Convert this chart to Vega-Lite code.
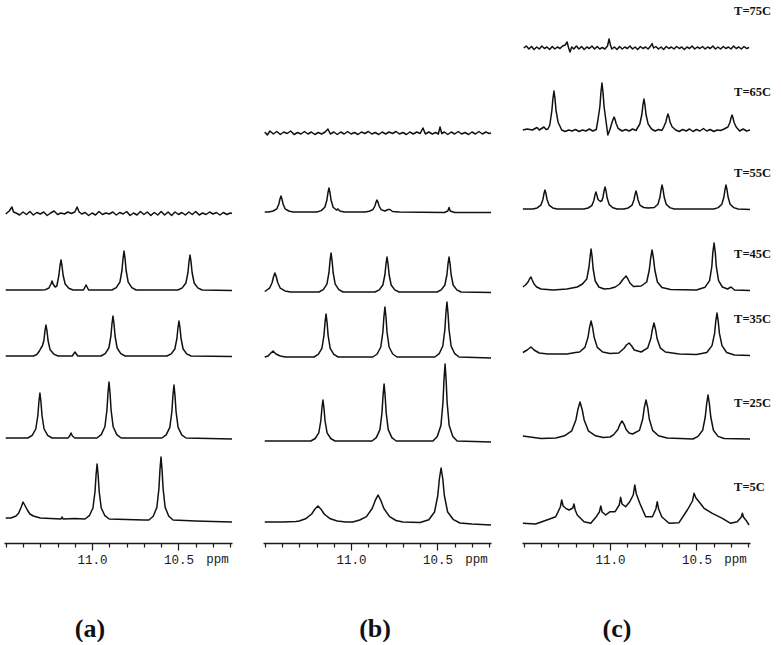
{
"$schema":"https://vega.github.io/schema/vega-lite/v6.json",
"background":"white",
"padding":{"left":4,"top":0,"right":0,"bottom":0},
"spacing":31,
"bounds":"flush",
"config":{"view":{"stroke":null},
 "axis":{"domainColor":"#1a1a1a","domainWidth":1.3,"tickColor":"#1a1a1a","tickWidth":1.2,"labelFont":"Liberation Mono","labelFontSize":12.5,"labelColor":"#1a1a1a","grid":false,"labelOverlap":false,"labelBound":false,"labelFlush":false,"labelPadding":3,"title":null}},
"datasets":{
"A":[
{"t":"a1","x":11.50,"y":25},{"t":"a1","x":11.47,"y":25},{"t":"a1","x":11.44,"y":27},{"t":"a1","x":11.425,"y":30},{"t":"a1","x":11.41,"y":36},{"t":"a1","x":11.40,"y":41},{"t":"a1","x":11.39,"y":38},{"t":"a1","x":11.375,"y":33},{"t":"a1","x":11.36,"y":29},{"t":"a1","x":11.34,"y":27},{"t":"a1","x":11.30,"y":25},{"t":"a1","x":11.24,"y":24.5},{"t":"a1","x":11.18,"y":24},{"t":"a1","x":11.174,"y":26},{"t":"a1","x":11.168,"y":24},{"t":"a1","x":11.10,"y":24.5},{"t":"a1","x":11.041,"y":24},{"t":"a1","x":11.016,"y":27.3},{"t":"a1","x":10.995,"y":35},{"t":"a1","x":10.983,"y":51.5},{"t":"a1","x":10.977,"y":68},{"t":"a1","x":10.971,"y":79},{"t":"a1","x":10.965,"y":68},{"t":"a1","x":10.959,"y":51.5},{"t":"a1","x":10.947,"y":35},{"t":"a1","x":10.926,"y":27.3},{"t":"a1","x":10.901,"y":24},{"t":"a1","x":10.80,"y":23.5},{"t":"a1","x":10.70,"y":23},{"t":"a1","x":10.671,"y":23},{"t":"a1","x":10.646,"y":26.8},{"t":"a1","x":10.625,"y":35.6},{"t":"a1","x":10.613,"y":54.5},{"t":"a1","x":10.607,"y":73.4},{"t":"a1","x":10.601,"y":86},{"t":"a1","x":10.595,"y":73.4},{"t":"a1","x":10.589,"y":54.5},{"t":"a1","x":10.577,"y":35.6},{"t":"a1","x":10.556,"y":26.8},{"t":"a1","x":10.531,"y":23},{"t":"a1","x":10.40,"y":22},{"t":"a1","x":10.30,"y":21.5},{"t":"a1","x":10.19,"y":21},
{"t":"a2","x":11.50,"y":105},{"t":"a2","x":11.372,"y":105},{"t":"a2","x":11.347,"y":107.7},{"t":"a2","x":11.326,"y":114},{"t":"a2","x":11.314,"y":127.5},{"t":"a2","x":11.308,"y":141},{"t":"a2","x":11.302,"y":150},{"t":"a2","x":11.296,"y":141},{"t":"a2","x":11.290,"y":127.5},{"t":"a2","x":11.278,"y":114},{"t":"a2","x":11.257,"y":107.7},{"t":"a2","x":11.232,"y":105},{"t":"a2","x":11.14,"y":105},{"t":"a2","x":11.13,"y":107},{"t":"a2","x":11.122,"y":110},{"t":"a2","x":11.114,"y":107},{"t":"a2","x":11.10,"y":105},{"t":"a2","x":10.972,"y":105},{"t":"a2","x":10.947,"y":108.4},{"t":"a2","x":10.926,"y":116.2},{"t":"a2","x":10.914,"y":133},{"t":"a2","x":10.908,"y":149.8},{"t":"a2","x":10.902,"y":161},{"t":"a2","x":10.896,"y":149.8},{"t":"a2","x":10.890,"y":133},{"t":"a2","x":10.878,"y":116.2},{"t":"a2","x":10.857,"y":108.4},{"t":"a2","x":10.832,"y":105},{"t":"a2","x":10.596,"y":105},{"t":"a2","x":10.571,"y":108.2},{"t":"a2","x":10.550,"y":115.6},{"t":"a2","x":10.538,"y":131.5},{"t":"a2","x":10.532,"y":147.4},{"t":"a2","x":10.526,"y":158},{"t":"a2","x":10.520,"y":147.4},{"t":"a2","x":10.514,"y":131.5},{"t":"a2","x":10.502,"y":115.6},{"t":"a2","x":10.481,"y":108.2},{"t":"a2","x":10.456,"y":105},{"t":"a2","x":10.19,"y":104},
{"t":"a3","x":11.50,"y":187},{"t":"a3","x":11.34,"y":187},{"t":"a3","x":11.32,"y":188.5},{"t":"a3","x":11.305,"y":192},{"t":"a3","x":11.296,"y":195},{"t":"a3","x":11.288,"y":197},{"t":"a3","x":11.279,"y":202.5},{"t":"a3","x":11.273,"y":211.8},{"t":"a3","x":11.267,"y":218},{"t":"a3","x":11.261,"y":211.8},{"t":"a3","x":11.255,"y":202.5},{"t":"a3","x":11.243,"y":193.2},{"t":"a3","x":11.222,"y":188.9},{"t":"a3","x":11.197,"y":187},{"t":"a3","x":11.115,"y":187},{"t":"a3","x":11.099,"y":191},{"t":"a3","x":11.083,"y":187},{"t":"a3","x":10.949,"y":187},{"t":"a3","x":10.924,"y":189.4},{"t":"a3","x":10.903,"y":195},{"t":"a3","x":10.891,"y":207},{"t":"a3","x":10.885,"y":219},{"t":"a3","x":10.879,"y":227},{"t":"a3","x":10.873,"y":219},{"t":"a3","x":10.867,"y":207},{"t":"a3","x":10.855,"y":195},{"t":"a3","x":10.834,"y":189.4},{"t":"a3","x":10.809,"y":187},{"t":"a3","x":10.567,"y":187},{"t":"a3","x":10.542,"y":189.1},{"t":"a3","x":10.521,"y":194},{"t":"a3","x":10.509,"y":204.5},{"t":"a3","x":10.503,"y":215},{"t":"a3","x":10.497,"y":222},{"t":"a3","x":10.491,"y":215},{"t":"a3","x":10.485,"y":204.5},{"t":"a3","x":10.473,"y":194},{"t":"a3","x":10.452,"y":189.1},{"t":"a3","x":10.427,"y":187},{"t":"a3","x":10.19,"y":186.5},
{"t":"a4","x":11.50,"y":253},{"t":"a4","x":11.30,"y":253},{"t":"a4","x":11.27,"y":253.3},{"t":"a4","x":11.25,"y":255},{"t":"a4","x":11.238,"y":259},{"t":"a4","x":11.232,"y":262},{"t":"a4","x":11.226,"y":259},{"t":"a4","x":11.214,"y":256},{"t":"a4","x":11.204,"y":257},{"t":"a4","x":11.192,"y":268},{"t":"a4","x":11.186,"y":277},{"t":"a4","x":11.180,"y":283},{"t":"a4","x":11.174,"y":277},{"t":"a4","x":11.168,"y":268},{"t":"a4","x":11.156,"y":259},{"t":"a4","x":11.135,"y":254.8},{"t":"a4","x":11.11,"y":253},{"t":"a4","x":11.05,"y":253},{"t":"a4","x":11.035,"y":258},{"t":"a4","x":11.02,"y":253},{"t":"a4","x":10.885,"y":253},{"t":"a4","x":10.860,"y":255.3},{"t":"a4","x":10.839,"y":260.8},{"t":"a4","x":10.827,"y":272.5},{"t":"a4","x":10.821,"y":284.2},{"t":"a4","x":10.815,"y":292},{"t":"a4","x":10.809,"y":284.2},{"t":"a4","x":10.803,"y":272.5},{"t":"a4","x":10.791,"y":260.8},{"t":"a4","x":10.770,"y":255.3},{"t":"a4","x":10.745,"y":253},{"t":"a4","x":10.503,"y":253},{"t":"a4","x":10.478,"y":255.1},{"t":"a4","x":10.457,"y":260},{"t":"a4","x":10.445,"y":270.5},{"t":"a4","x":10.439,"y":281},{"t":"a4","x":10.433,"y":288},{"t":"a4","x":10.427,"y":281},{"t":"a4","x":10.421,"y":270.5},{"t":"a4","x":10.409,"y":260},{"t":"a4","x":10.388,"y":255.1},{"t":"a4","x":10.363,"y":253},{"t":"a4","x":10.19,"y":252.5},
{"t":"a5","x":11.50,"y":329},{"t":"a5","x":11.48,"y":332},{"t":"a5","x":11.464,"y":336},{"t":"a5","x":11.455,"y":331},{"t":"a5","x":11.44,"y":330},{"t":"a5","x":11.42,"y":328},{"t":"a5","x":11.40,"y":331},{"t":"a5","x":11.38,"y":328.5},{"t":"a5","x":11.36,"y":331.5},{"t":"a5","x":11.34,"y":328},{"t":"a5","x":11.32,"y":330.5},{"t":"a5","x":11.30,"y":329},{"t":"a5","x":11.28,"y":331},{"t":"a5","x":11.26,"y":327.5},{"t":"a5","x":11.24,"y":330},{"t":"a5","x":11.22,"y":332},{"t":"a5","x":11.20,"y":328.5},{"t":"a5","x":11.18,"y":330},{"t":"a5","x":11.16,"y":329},{"t":"a5","x":11.14,"y":331},{"t":"a5","x":11.12,"y":329.5},{"t":"a5","x":11.10,"y":331},{"t":"a5","x":11.087,"y":336},{"t":"a5","x":11.075,"y":331},{"t":"a5","x":11.06,"y":329},{"t":"a5","x":11.04,"y":330.5},{"t":"a5","x":11.02,"y":327.5},{"t":"a5","x":11.00,"y":330},{"t":"a5","x":10.98,"y":328},{"t":"a5","x":10.96,"y":331.5},{"t":"a5","x":10.94,"y":328.5},{"t":"a5","x":10.92,"y":330},{"t":"a5","x":10.90,"y":329},{"t":"a5","x":10.88,"y":331},{"t":"a5","x":10.86,"y":328},{"t":"a5","x":10.84,"y":330.5},{"t":"a5","x":10.82,"y":329},{"t":"a5","x":10.80,"y":331.5},{"t":"a5","x":10.78,"y":327.5},{"t":"a5","x":10.76,"y":330},{"t":"a5","x":10.74,"y":328},{"t":"a5","x":10.72,"y":331.5},{"t":"a5","x":10.70,"y":328.5},{"t":"a5","x":10.68,"y":331},{"t":"a5","x":10.66,"y":327.5},{"t":"a5","x":10.64,"y":330.5},{"t":"a5","x":10.62,"y":328},{"t":"a5","x":10.60,"y":331.5},{"t":"a5","x":10.58,"y":328},{"t":"a5","x":10.56,"y":331},{"t":"a5","x":10.54,"y":327.5},{"t":"a5","x":10.52,"y":331},{"t":"a5","x":10.50,"y":328.5},{"t":"a5","x":10.48,"y":330.5},{"t":"a5","x":10.46,"y":328},{"t":"a5","x":10.44,"y":331},{"t":"a5","x":10.42,"y":328.5},{"t":"a5","x":10.40,"y":331.5},{"t":"a5","x":10.38,"y":328},{"t":"a5","x":10.36,"y":330},{"t":"a5","x":10.34,"y":328.5},{"t":"a5","x":10.32,"y":331},{"t":"a5","x":10.30,"y":329},{"t":"a5","x":10.28,"y":330.5},{"t":"a5","x":10.26,"y":328},{"t":"a5","x":10.24,"y":330.5},{"t":"a5","x":10.22,"y":328.5},{"t":"a5","x":10.20,"y":330},{"t":"a5","x":10.19,"y":329.5}
],
"B":[
{"t":"b1","x":11.50,"y":21},{"t":"b1","x":11.40,"y":21},{"t":"b1","x":11.32,"y":21.5},{"t":"b1","x":11.30,"y":22},{"t":"b1","x":11.264,"y":24.2},{"t":"b1","x":11.228,"y":29},{"t":"b1","x":11.21,"y":33.8},{"t":"b1","x":11.192,"y":37},{"t":"b1","x":11.174,"y":33.8},{"t":"b1","x":11.156,"y":29},{"t":"b1","x":11.12,"y":24.2},{"t":"b1","x":11.08,"y":22},{"t":"b1","x":11.03,"y":21},{"t":"b1","x":10.99,"y":21},{"t":"b1","x":10.95,"y":23},{"t":"b1","x":10.911,"y":26.4},{"t":"b1","x":10.878,"y":34.5},{"t":"b1","x":10.86,"y":42.6},{"t":"b1","x":10.844,"y":48},{"t":"b1","x":10.828,"y":42.6},{"t":"b1","x":10.81,"y":34.5},{"t":"b1","x":10.777,"y":26.4},{"t":"b1","x":10.74,"y":22.5},{"t":"b1","x":10.70,"y":21},{"t":"b1","x":10.60,"y":20.5},{"t":"b1","x":10.55,"y":23.3},{"t":"b1","x":10.517,"y":31},{"t":"b1","x":10.498,"y":47.5},{"t":"b1","x":10.489,"y":64},{"t":"b1","x":10.479,"y":75},{"t":"b1","x":10.469,"y":64},{"t":"b1","x":10.46,"y":47.5},{"t":"b1","x":10.441,"y":31},{"t":"b1","x":10.407,"y":23.3},{"t":"b1","x":10.37,"y":20},{"t":"b1","x":10.30,"y":19},{"t":"b1","x":10.19,"y":18},
{"t":"b2","x":11.50,"y":102},{"t":"b2","x":11.233,"y":102},{"t":"b2","x":11.208,"y":104.5},{"t":"b2","x":11.187,"y":110.2},{"t":"b2","x":11.175,"y":122.5},{"t":"b2","x":11.169,"y":134.8},{"t":"b2","x":11.163,"y":143},{"t":"b2","x":11.157,"y":134.8},{"t":"b2","x":11.151,"y":122.5},{"t":"b2","x":11.139,"y":110.2},{"t":"b2","x":11.118,"y":104.5},{"t":"b2","x":11.093,"y":102},{"t":"b2","x":10.879,"y":102},{"t":"b2","x":10.854,"y":105.4},{"t":"b2","x":10.833,"y":113.4},{"t":"b2","x":10.821,"y":130.5},{"t":"b2","x":10.815,"y":147.6},{"t":"b2","x":10.809,"y":159},{"t":"b2","x":10.803,"y":147.6},{"t":"b2","x":10.797,"y":130.5},{"t":"b2","x":10.785,"y":113.4},{"t":"b2","x":10.764,"y":105.4},{"t":"b2","x":10.739,"y":102},{"t":"b2","x":10.526,"y":102},{"t":"b2","x":10.501,"y":106.6},{"t":"b2","x":10.480,"y":117.4},{"t":"b2","x":10.468,"y":140.5},{"t":"b2","x":10.462,"y":163.6},{"t":"b2","x":10.456,"y":179},{"t":"b2","x":10.450,"y":163.6},{"t":"b2","x":10.444,"y":140.5},{"t":"b2","x":10.432,"y":117.4},{"t":"b2","x":10.411,"y":106.6},{"t":"b2","x":10.386,"y":102},{"t":"b2","x":10.19,"y":101},
{"t":"b3","x":11.50,"y":186},{"t":"b3","x":11.48,"y":187},{"t":"b3","x":11.47,"y":189},{"t":"b3","x":11.452,"y":192},{"t":"b3","x":11.435,"y":189},{"t":"b3","x":11.41,"y":187},{"t":"b3","x":11.38,"y":186},{"t":"b3","x":11.215,"y":186},{"t":"b3","x":11.190,"y":188.6},{"t":"b3","x":11.169,"y":194.6},{"t":"b3","x":11.157,"y":207.5},{"t":"b3","x":11.151,"y":220.4},{"t":"b3","x":11.145,"y":229},{"t":"b3","x":11.139,"y":220.4},{"t":"b3","x":11.133,"y":207.5},{"t":"b3","x":11.121,"y":194.6},{"t":"b3","x":11.100,"y":188.6},{"t":"b3","x":11.075,"y":186},{"t":"b3","x":10.874,"y":186},{"t":"b3","x":10.849,"y":189},{"t":"b3","x":10.828,"y":196},{"t":"b3","x":10.816,"y":211},{"t":"b3","x":10.810,"y":226},{"t":"b3","x":10.804,"y":236},{"t":"b3","x":10.798,"y":226},{"t":"b3","x":10.792,"y":211},{"t":"b3","x":10.780,"y":196},{"t":"b3","x":10.759,"y":189},{"t":"b3","x":10.734,"y":186},{"t":"b3","x":10.515,"y":186},{"t":"b3","x":10.490,"y":189.3},{"t":"b3","x":10.469,"y":197},{"t":"b3","x":10.457,"y":213.5},{"t":"b3","x":10.451,"y":230},{"t":"b3","x":10.445,"y":241},{"t":"b3","x":10.439,"y":230},{"t":"b3","x":10.433,"y":213.5},{"t":"b3","x":10.421,"y":197},{"t":"b3","x":10.400,"y":189.3},{"t":"b3","x":10.375,"y":186},{"t":"b3","x":10.19,"y":185},
{"t":"b4","x":11.50,"y":251.5},{"t":"b4","x":11.472,"y":254.8},{"t":"b4","x":11.457,"y":260.5},{"t":"b4","x":11.449,"y":266.2},{"t":"b4","x":11.441,"y":270},{"t":"b4","x":11.433,"y":266.2},{"t":"b4","x":11.425,"y":260.5},{"t":"b4","x":11.41,"y":254.8},{"t":"b4","x":11.383,"y":252.1},{"t":"b4","x":11.35,"y":251},{"t":"b4","x":11.186,"y":251},{"t":"b4","x":11.161,"y":253.3},{"t":"b4","x":11.140,"y":258.8},{"t":"b4","x":11.128,"y":270.5},{"t":"b4","x":11.122,"y":282.2},{"t":"b4","x":11.116,"y":290},{"t":"b4","x":11.110,"y":282.2},{"t":"b4","x":11.104,"y":270.5},{"t":"b4","x":11.092,"y":258.8},{"t":"b4","x":11.071,"y":253.3},{"t":"b4","x":11.046,"y":251},{"t":"b4","x":10.862,"y":251},{"t":"b4","x":10.837,"y":253.1},{"t":"b4","x":10.816,"y":258},{"t":"b4","x":10.804,"y":268.5},{"t":"b4","x":10.798,"y":279},{"t":"b4","x":10.792,"y":286},{"t":"b4","x":10.786,"y":279},{"t":"b4","x":10.780,"y":268.5},{"t":"b4","x":10.768,"y":258},{"t":"b4","x":10.747,"y":253.1},{"t":"b4","x":10.722,"y":251},{"t":"b4","x":10.503,"y":251},{"t":"b4","x":10.478,"y":253.1},{"t":"b4","x":10.457,"y":258},{"t":"b4","x":10.445,"y":268.5},{"t":"b4","x":10.439,"y":279},{"t":"b4","x":10.433,"y":286},{"t":"b4","x":10.427,"y":279},{"t":"b4","x":10.421,"y":268.5},{"t":"b4","x":10.409,"y":258},{"t":"b4","x":10.388,"y":253.1},{"t":"b4","x":10.363,"y":251},{"t":"b4","x":10.19,"y":250.5},
{"t":"b5","x":11.50,"y":331},{"t":"b5","x":11.476,"y":331},{"t":"b5","x":11.451,"y":332},{"t":"b5","x":11.430,"y":334.2},{"t":"b5","x":11.418,"y":339},{"t":"b5","x":11.412,"y":343.8},{"t":"b5","x":11.406,"y":347},{"t":"b5","x":11.400,"y":343.8},{"t":"b5","x":11.394,"y":339},{"t":"b5","x":11.382,"y":334.2},{"t":"b5","x":11.361,"y":332},{"t":"b5","x":11.336,"y":331},{"t":"b5","x":11.198,"y":331},{"t":"b5","x":11.173,"y":332.4},{"t":"b5","x":11.152,"y":335.8},{"t":"b5","x":11.140,"y":343},{"t":"b5","x":11.134,"y":350.2},{"t":"b5","x":11.128,"y":355},{"t":"b5","x":11.122,"y":350.2},{"t":"b5","x":11.116,"y":343},{"t":"b5","x":11.104,"y":335.8},{"t":"b5","x":11.085,"y":333},{"t":"b5","x":11.076,"y":334},{"t":"b5","x":11.065,"y":332},{"t":"b5","x":11.04,"y":331},{"t":"b5","x":10.92,"y":331},{"t":"b5","x":10.895,"y":331.7},{"t":"b5","x":10.874,"y":333.4},{"t":"b5","x":10.862,"y":337},{"t":"b5","x":10.856,"y":340.6},{"t":"b5","x":10.850,"y":343},{"t":"b5","x":10.844,"y":340.6},{"t":"b5","x":10.838,"y":337},{"t":"b5","x":10.826,"y":333.4},{"t":"b5","x":10.805,"y":332},{"t":"b5","x":10.785,"y":333.5},{"t":"b5","x":10.775,"y":333.5},{"t":"b5","x":10.76,"y":331.5},{"t":"b5","x":10.72,"y":331},{"t":"b5","x":10.46,"y":330.5},{"t":"b5","x":10.440,"y":332},{"t":"b5","x":10.433,"y":335.5},{"t":"b5","x":10.426,"y":332},{"t":"b5","x":10.40,"y":330.5},{"t":"b5","x":10.19,"y":330.5},
{"t":"b6","x":11.50,"y":411},{"t":"b6","x":11.485,"y":408},{"t":"b6","x":11.47,"y":412},{"t":"b6","x":11.45,"y":409},{"t":"b6","x":11.43,"y":411.5},{"t":"b6","x":11.41,"y":408.5},{"t":"b6","x":11.39,"y":411},{"t":"b6","x":11.37,"y":409.5},{"t":"b6","x":11.35,"y":412},{"t":"b6","x":11.33,"y":408.5},{"t":"b6","x":11.31,"y":410.5},{"t":"b6","x":11.29,"y":409},{"t":"b6","x":11.27,"y":411.5},{"t":"b6","x":11.25,"y":409},{"t":"b6","x":11.23,"y":411},{"t":"b6","x":11.21,"y":408.5},{"t":"b6","x":11.19,"y":410.5},{"t":"b6","x":11.17,"y":409},{"t":"b6","x":11.15,"y":411},{"t":"b6","x":11.134,"y":414},{"t":"b6","x":11.12,"y":409},{"t":"b6","x":11.10,"y":411},{"t":"b6","x":11.08,"y":408.5},{"t":"b6","x":11.06,"y":411},{"t":"b6","x":11.04,"y":409},{"t":"b6","x":11.02,"y":411.5},{"t":"b6","x":11.00,"y":409},{"t":"b6","x":10.98,"y":410.5},{"t":"b6","x":10.96,"y":408.5},{"t":"b6","x":10.94,"y":411},{"t":"b6","x":10.92,"y":409.5},{"t":"b6","x":10.90,"y":411.5},{"t":"b6","x":10.88,"y":409},{"t":"b6","x":10.86,"y":410.5},{"t":"b6","x":10.84,"y":408.5},{"t":"b6","x":10.82,"y":411},{"t":"b6","x":10.80,"y":409},{"t":"b6","x":10.78,"y":411},{"t":"b6","x":10.76,"y":409.5},{"t":"b6","x":10.74,"y":411.5},{"t":"b6","x":10.72,"y":409},{"t":"b6","x":10.70,"y":410.5},{"t":"b6","x":10.68,"y":408.5},{"t":"b6","x":10.66,"y":411},{"t":"b6","x":10.64,"y":409},{"t":"b6","x":10.62,"y":411},{"t":"b6","x":10.60,"y":409.5},{"t":"b6","x":10.584,"y":415},{"t":"b6","x":10.57,"y":409},{"t":"b6","x":10.55,"y":411},{"t":"b6","x":10.53,"y":409},{"t":"b6","x":10.51,"y":410.5},{"t":"b6","x":10.495,"y":409},{"t":"b6","x":10.485,"y":416},{"t":"b6","x":10.475,"y":409.5},{"t":"b6","x":10.46,"y":411},{"t":"b6","x":10.44,"y":408.5},{"t":"b6","x":10.42,"y":411},{"t":"b6","x":10.40,"y":409},{"t":"b6","x":10.38,"y":411.5},{"t":"b6","x":10.36,"y":409},{"t":"b6","x":10.34,"y":410.5},{"t":"b6","x":10.32,"y":408.5},{"t":"b6","x":10.30,"y":411},{"t":"b6","x":10.28,"y":409},{"t":"b6","x":10.26,"y":411.5},{"t":"b6","x":10.24,"y":409},{"t":"b6","x":10.22,"y":411},{"t":"b6","x":10.20,"y":409.5},{"t":"b6","x":10.19,"y":410}
],
"C":[
{"t":"c1","x":11.505,"y":19.7},{"t":"c1","x":11.431,"y":19},{"t":"c1","x":11.354,"y":23.7},{"t":"c1","x":11.315,"y":26.3},{"t":"c1","x":11.288,"y":36},{"t":"c1","x":11.280,"y":43},{"t":"c1","x":11.272,"y":37},{"t":"c1","x":11.257,"y":34.7},{"t":"c1","x":11.238,"y":33},{"t":"c1","x":11.216,"y":35},{"t":"c1","x":11.209,"y":39},{"t":"c1","x":11.202,"y":33},{"t":"c1","x":11.190,"y":28},{"t":"c1","x":11.151,"y":21.3},{"t":"c1","x":11.112,"y":19.7},{"t":"c1","x":11.080,"y":26.3},{"t":"c1","x":11.062,"y":31},{"t":"c1","x":11.054,"y":37},{"t":"c1","x":11.046,"y":31},{"t":"c1","x":11.025,"y":28},{"t":"c1","x":11.000,"y":31.3},{"t":"c1","x":10.971,"y":31.3},{"t":"c1","x":10.947,"y":38},{"t":"c1","x":10.939,"y":45.7},{"t":"c1","x":10.931,"y":39},{"t":"c1","x":10.910,"y":36.3},{"t":"c1","x":10.886,"y":41.3},{"t":"c1","x":10.866,"y":48},{"t":"c1","x":10.857,"y":58},{"t":"c1","x":10.848,"y":49},{"t":"c1","x":10.828,"y":39.7},{"t":"c1","x":10.794,"y":26.3},{"t":"c1","x":10.755,"y":26.3},{"t":"c1","x":10.735,"y":34},{"t":"c1","x":10.727,"y":41.3},{"t":"c1","x":10.719,"y":34},{"t":"c1","x":10.701,"y":26.3},{"t":"c1","x":10.659,"y":19.7},{"t":"c1","x":10.601,"y":20.3},{"t":"c1","x":10.553,"y":33},{"t":"c1","x":10.523,"y":42},{"t":"c1","x":10.514,"y":49.7},{"t":"c1","x":10.503,"y":45},{"t":"c1","x":10.485,"y":41.3},{"t":"c1","x":10.456,"y":34.7},{"t":"c1","x":10.408,"y":29.7},{"t":"c1","x":10.350,"y":24.7},{"t":"c1","x":10.302,"y":19.7},{"t":"c1","x":10.264,"y":21.3},{"t":"c1","x":10.240,"y":26},{"t":"c1","x":10.234,"y":29.7},{"t":"c1","x":10.228,"y":26},{"t":"c1","x":10.211,"y":22.3},{"t":"c1","x":10.196,"y":18},
{"t":"c2","x":11.505,"y":107},{"t":"c2","x":11.40,"y":104.5},{"t":"c2","x":11.314,"y":105},{"t":"c2","x":11.264,"y":107.2},{"t":"c2","x":11.222,"y":112.2},{"t":"c2","x":11.198,"y":123},{"t":"c2","x":11.186,"y":133.8},{"t":"c2","x":11.174,"y":141},{"t":"c2","x":11.162,"y":133.8},{"t":"c2","x":11.150,"y":123},{"t":"c2","x":11.126,"y":112.2},{"t":"c2","x":11.084,"y":107.2},{"t":"c2","x":11.04,"y":105.5},{"t":"c2","x":11.00,"y":106},{"t":"c2","x":10.979,"y":108.4},{"t":"c2","x":10.955,"y":113.5},{"t":"c2","x":10.943,"y":118.6},{"t":"c2","x":10.931,"y":122},{"t":"c2","x":10.919,"y":118.6},{"t":"c2","x":10.907,"y":113.5},{"t":"c2","x":10.89,"y":110},{"t":"c2","x":10.87,"y":109},{"t":"c2","x":10.830,"y":112.6},{"t":"c2","x":10.811,"y":124},{"t":"c2","x":10.802,"y":135.4},{"t":"c2","x":10.792,"y":143},{"t":"c2","x":10.782,"y":135.4},{"t":"c2","x":10.773,"y":124},{"t":"c2","x":10.754,"y":112.6},{"t":"c2","x":10.72,"y":107.3},{"t":"c2","x":10.67,"y":105},{"t":"c2","x":10.52,"y":104},{"t":"c2","x":10.491,"y":106.6},{"t":"c2","x":10.464,"y":112.8},{"t":"c2","x":10.449,"y":126},{"t":"c2","x":10.441,"y":139.2},{"t":"c2","x":10.433,"y":148},{"t":"c2","x":10.425,"y":139.2},{"t":"c2","x":10.417,"y":126},{"t":"c2","x":10.402,"y":112.8},{"t":"c2","x":10.375,"y":106.6},{"t":"c2","x":10.34,"y":104.5},{"t":"c2","x":10.19,"y":104},
{"t":"c3","x":11.505,"y":190.5},{"t":"c3","x":11.48,"y":193},{"t":"c3","x":11.458,"y":196},{"t":"c3","x":11.44,"y":193},{"t":"c3","x":11.41,"y":190},{"t":"c3","x":11.36,"y":189},{"t":"c3","x":11.25,"y":189},{"t":"c3","x":11.20,"y":190.5},{"t":"c3","x":11.177,"y":191},{"t":"c3","x":11.146,"y":195.6},{"t":"c3","x":11.128,"y":205.5},{"t":"c3","x":11.119,"y":215.4},{"t":"c3","x":11.110,"y":222},{"t":"c3","x":11.101,"y":215.4},{"t":"c3","x":11.092,"y":205.5},{"t":"c3","x":11.074,"y":195.6},{"t":"c3","x":11.043,"y":191},{"t":"c3","x":11.00,"y":189.5},{"t":"c3","x":10.95,"y":190},{"t":"c3","x":10.92,"y":194.5},{"t":"c3","x":10.905,"y":198},{"t":"c3","x":10.890,"y":200},{"t":"c3","x":10.875,"y":197},{"t":"c3","x":10.86,"y":193},{"t":"c3","x":10.82,"y":191},{"t":"c3","x":10.782,"y":195.2},{"t":"c3","x":10.764,"y":204.5},{"t":"c3","x":10.755,"y":213.8},{"t":"c3","x":10.746,"y":220},{"t":"c3","x":10.737,"y":213.8},{"t":"c3","x":10.728,"y":204.5},{"t":"c3","x":10.710,"y":195.2},{"t":"c3","x":10.68,"y":191},{"t":"c3","x":10.60,"y":189},{"t":"c3","x":10.50,"y":188.5},{"t":"c3","x":10.44,"y":190.5},{"t":"c3","x":10.410,"y":197.4},{"t":"c3","x":10.395,"y":209.6},{"t":"c3","x":10.388,"y":221.8},{"t":"c3","x":10.381,"y":230},{"t":"c3","x":10.374,"y":221.8},{"t":"c3","x":10.367,"y":209.6},{"t":"c3","x":10.352,"y":197.4},{"t":"c3","x":10.325,"y":190.5},{"t":"c3","x":10.28,"y":188},{"t":"c3","x":10.19,"y":187.5},
{"t":"c4","x":11.505,"y":256},{"t":"c4","x":11.49,"y":258},{"t":"c4","x":11.475,"y":261},{"t":"c4","x":11.465,"y":264.5},{"t":"c4","x":11.458,"y":266},{"t":"c4","x":11.451,"y":263},{"t":"c4","x":11.44,"y":259},{"t":"c4","x":11.425,"y":256},{"t":"c4","x":11.40,"y":254},{"t":"c4","x":11.33,"y":253},{"t":"c4","x":11.25,"y":254},{"t":"c4","x":11.19,"y":256},{"t":"c4","x":11.16,"y":259},{"t":"c4","x":11.135,"y":264},{"t":"c4","x":11.122,"y":276},{"t":"c4","x":11.116,"y":286},{"t":"c4","x":11.110,"y":294},{"t":"c4","x":11.104,"y":286},{"t":"c4","x":11.098,"y":274},{"t":"c4","x":11.086,"y":262},{"t":"c4","x":11.065,"y":256},{"t":"c4","x":11.035,"y":254},{"t":"c4","x":11.00,"y":254.5},{"t":"c4","x":10.97,"y":256},{"t":"c4","x":10.945,"y":259},{"t":"c4","x":10.924,"y":264},{"t":"c4","x":10.915,"y":265.5},{"t":"c4","x":10.908,"y":267},{"t":"c4","x":10.898,"y":264.5},{"t":"c4","x":10.885,"y":260},{"t":"c4","x":10.865,"y":256.5},{"t":"c4","x":10.82,"y":257},{"t":"c4","x":10.788,"y":261},{"t":"c4","x":10.773,"y":273},{"t":"c4","x":10.765,"y":285},{"t":"c4","x":10.757,"y":293},{"t":"c4","x":10.749,"y":285},{"t":"c4","x":10.741,"y":273},{"t":"c4","x":10.726,"y":261},{"t":"c4","x":10.70,"y":255.5},{"t":"c4","x":10.65,"y":253.5},{"t":"c4","x":10.50,"y":253},{"t":"c4","x":10.45,"y":255.8},{"t":"c4","x":10.424,"y":262.4},{"t":"c4","x":10.411,"y":276.5},{"t":"c4","x":10.405,"y":290.6},{"t":"c4","x":10.398,"y":300},{"t":"c4","x":10.391,"y":290.6},{"t":"c4","x":10.385,"y":276.5},{"t":"c4","x":10.372,"y":262.4},{"t":"c4","x":10.35,"y":256},{"t":"c4","x":10.32,"y":254},{"t":"c4","x":10.30,"y":256},{"t":"c4","x":10.28,"y":253},{"t":"c4","x":10.19,"y":252.5},
{"t":"c5","x":11.505,"y":334},{"t":"c5","x":11.447,"y":334},{"t":"c5","x":11.422,"y":335.1},{"t":"c5","x":11.401,"y":337.8},{"t":"c5","x":11.389,"y":343.5},{"t":"c5","x":11.383,"y":349.2},{"t":"c5","x":11.377,"y":353},{"t":"c5","x":11.371,"y":349.2},{"t":"c5","x":11.365,"y":343.5},{"t":"c5","x":11.353,"y":337.8},{"t":"c5","x":11.332,"y":335.1},{"t":"c5","x":11.307,"y":334},{"t":"c5","x":11.152,"y":334},{"t":"c5","x":11.127,"y":335},{"t":"c5","x":11.106,"y":337.4},{"t":"c5","x":11.094,"y":342.5},{"t":"c5","x":11.088,"y":347.6},{"t":"c5","x":11.082,"y":351},{"t":"c5","x":11.076,"y":347.6},{"t":"c5","x":11.070,"y":343.5},{"t":"c5","x":11.056,"y":341.5},{"t":"c5","x":11.047,"y":342.5},{"t":"c5","x":11.041,"y":346},{"t":"c5","x":11.035,"y":352},{"t":"c5","x":11.029,"y":356},{"t":"c5","x":11.023,"y":351.6},{"t":"c5","x":11.017,"y":345},{"t":"c5","x":11.005,"y":338.4},{"t":"c5","x":10.984,"y":335.3},{"t":"c5","x":10.96,"y":334},{"t":"c5","x":10.92,"y":334},{"t":"c5","x":10.895,"y":335.1},{"t":"c5","x":10.874,"y":337.6},{"t":"c5","x":10.862,"y":343},{"t":"c5","x":10.856,"y":348.4},{"t":"c5","x":10.850,"y":352},{"t":"c5","x":10.844,"y":348.4},{"t":"c5","x":10.838,"y":343},{"t":"c5","x":10.826,"y":337.6},{"t":"c5","x":10.805,"y":335.5},{"t":"c5","x":10.78,"y":335},{"t":"c5","x":10.744,"y":335.5},{"t":"c5","x":10.723,"y":338.8},{"t":"c5","x":10.711,"y":346},{"t":"c5","x":10.705,"y":353.2},{"t":"c5","x":10.699,"y":358},{"t":"c5","x":10.693,"y":353.2},{"t":"c5","x":10.687,"y":346},{"t":"c5","x":10.675,"y":338.8},{"t":"c5","x":10.654,"y":335.4},{"t":"c5","x":10.629,"y":334},{"t":"c5","x":10.399,"y":334},{"t":"c5","x":10.374,"y":335.4},{"t":"c5","x":10.353,"y":338.8},{"t":"c5","x":10.341,"y":346},{"t":"c5","x":10.335,"y":353.2},{"t":"c5","x":10.329,"y":358},{"t":"c5","x":10.323,"y":353.2},{"t":"c5","x":10.317,"y":346},{"t":"c5","x":10.305,"y":338.8},{"t":"c5","x":10.284,"y":335.4},{"t":"c5","x":10.259,"y":334},{"t":"c5","x":10.19,"y":333.5},
{"t":"c6","x":11.505,"y":413},{"t":"c6","x":11.48,"y":414},{"t":"c6","x":11.45,"y":413},{"t":"c6","x":11.423,"y":415.5},{"t":"c6","x":11.41,"y":413},{"t":"c6","x":11.383,"y":416},{"t":"c6","x":11.37,"y":413.5},{"t":"c6","x":11.36,"y":414},{"t":"c6","x":11.349,"y":418},{"t":"c6","x":11.337,"y":432.5},{"t":"c6","x":11.331,"y":444.2},{"t":"c6","x":11.325,"y":452},{"t":"c6","x":11.319,"y":444.2},{"t":"c6","x":11.313,"y":432.5},{"t":"c6","x":11.301,"y":420.8},{"t":"c6","x":11.28,"y":413},{"t":"c6","x":11.26,"y":411.5},{"t":"c6","x":11.24,"y":413},{"t":"c6","x":11.22,"y":412},{"t":"c6","x":11.20,"y":413.5},{"t":"c6","x":11.18,"y":411.5},{"t":"c6","x":11.16,"y":413},{"t":"c6","x":11.14,"y":412},{"t":"c6","x":11.12,"y":414},{"t":"c6","x":11.10,"y":412},{"t":"c6","x":11.08,"y":413.5},{"t":"c6","x":11.071,"y":422.4},{"t":"c6","x":11.059,"y":436.5},{"t":"c6","x":11.053,"y":450.6},{"t":"c6","x":11.047,"y":460},{"t":"c6","x":11.041,"y":450.6},{"t":"c6","x":11.035,"y":436.5},{"t":"c6","x":11.023,"y":421},{"t":"c6","x":11.013,"y":408},{"t":"c6","x":11.00,"y":414},{"t":"c6","x":10.989,"y":420.5},{"t":"c6","x":10.983,"y":423.4},{"t":"c6","x":10.977,"y":426},{"t":"c6","x":10.971,"y":423.4},{"t":"c6","x":10.965,"y":419.5},{"t":"c6","x":10.953,"y":414.5},{"t":"c6","x":10.93,"y":412},{"t":"c6","x":10.91,"y":413.5},{"t":"c6","x":10.89,"y":412},{"t":"c6","x":10.87,"y":414},{"t":"c6","x":10.85,"y":412.5},{"t":"c6","x":10.828,"y":419},{"t":"c6","x":10.816,"y":428.5},{"t":"c6","x":10.810,"y":437.8},{"t":"c6","x":10.804,"y":444},{"t":"c6","x":10.798,"y":437.8},{"t":"c6","x":10.792,"y":428.5},{"t":"c6","x":10.780,"y":419.2},{"t":"c6","x":10.76,"y":414},{"t":"c6","x":10.74,"y":412},{"t":"c6","x":10.72,"y":413.5},{"t":"c6","x":10.70,"y":412.5},{"t":"c6","x":10.689,"y":416.2},{"t":"c6","x":10.677,"y":421},{"t":"c6","x":10.671,"y":425.8},{"t":"c6","x":10.665,"y":429},{"t":"c6","x":10.659,"y":425.8},{"t":"c6","x":10.653,"y":421},{"t":"c6","x":10.641,"y":416.2},{"t":"c6","x":10.62,"y":413},{"t":"c6","x":10.60,"y":411.5},{"t":"c6","x":10.58,"y":413.5},{"t":"c6","x":10.56,"y":412},{"t":"c6","x":10.54,"y":414},{"t":"c6","x":10.52,"y":411.5},{"t":"c6","x":10.50,"y":413.5},{"t":"c6","x":10.48,"y":412},{"t":"c6","x":10.46,"y":414.5},{"t":"c6","x":10.44,"y":412},{"t":"c6","x":10.42,"y":413.5},{"t":"c6","x":10.40,"y":411.5},{"t":"c6","x":10.38,"y":413},{"t":"c6","x":10.36,"y":412.5},{"t":"c6","x":10.34,"y":414},{"t":"c6","x":10.318,"y":416},{"t":"c6","x":10.306,"y":420.5},{"t":"c6","x":10.300,"y":425},{"t":"c6","x":10.294,"y":428},{"t":"c6","x":10.288,"y":425},{"t":"c6","x":10.282,"y":420.5},{"t":"c6","x":10.270,"y":416},{"t":"c6","x":10.25,"y":412},{"t":"c6","x":10.23,"y":414},{"t":"c6","x":10.21,"y":412},{"t":"c6","x":10.19,"y":413},
{"t":"c7","x":11.50,"y":495},{"t":"c7","x":11.485,"y":497},{"t":"c7","x":11.47,"y":494},{"t":"c7","x":11.455,"y":496.5},{"t":"c7","x":11.44,"y":493.5},{"t":"c7","x":11.425,"y":496},{"t":"c7","x":11.41,"y":494},{"t":"c7","x":11.395,"y":497},{"t":"c7","x":11.38,"y":494.5},{"t":"c7","x":11.365,"y":496},{"t":"c7","x":11.35,"y":493.5},{"t":"c7","x":11.335,"y":496.5},{"t":"c7","x":11.32,"y":494},{"t":"c7","x":11.305,"y":496},{"t":"c7","x":11.29,"y":494.5},{"t":"c7","x":11.275,"y":497},{"t":"c7","x":11.26,"y":498},{"t":"c7","x":11.249,"y":501},{"t":"c7","x":11.24,"y":495},{"t":"c7","x":11.232,"y":491},{"t":"c7","x":11.222,"y":496},{"t":"c7","x":11.21,"y":494},{"t":"c7","x":11.195,"y":497},{"t":"c7","x":11.18,"y":494},{"t":"c7","x":11.165,"y":496.5},{"t":"c7","x":11.15,"y":493.5},{"t":"c7","x":11.135,"y":496},{"t":"c7","x":11.12,"y":494.5},{"t":"c7","x":11.105,"y":497},{"t":"c7","x":11.09,"y":494},{"t":"c7","x":11.075,"y":496.5},{"t":"c7","x":11.06,"y":494},{"t":"c7","x":11.045,"y":495.5},{"t":"c7","x":11.03,"y":494},{"t":"c7","x":11.015,"y":497},{"t":"c7","x":11.006,"y":504},{"t":"c7","x":10.998,"y":498},{"t":"c7","x":10.99,"y":494},{"t":"c7","x":10.975,"y":496},{"t":"c7","x":10.96,"y":493.5},{"t":"c7","x":10.945,"y":496.5},{"t":"c7","x":10.93,"y":494},{"t":"c7","x":10.915,"y":496},{"t":"c7","x":10.90,"y":494.5},{"t":"c7","x":10.885,"y":497},{"t":"c7","x":10.87,"y":494},{"t":"c7","x":10.855,"y":496},{"t":"c7","x":10.84,"y":493.5},{"t":"c7","x":10.825,"y":496.5},{"t":"c7","x":10.81,"y":494.5},{"t":"c7","x":10.795,"y":496},{"t":"c7","x":10.78,"y":494},{"t":"c7","x":10.765,"y":497},{"t":"c7","x":10.757,"y":499.5},{"t":"c7","x":10.748,"y":495},{"t":"c7","x":10.735,"y":496.5},{"t":"c7","x":10.72,"y":494},{"t":"c7","x":10.705,"y":496},{"t":"c7","x":10.69,"y":493.5},{"t":"c7","x":10.675,"y":496.5},{"t":"c7","x":10.66,"y":494.5},{"t":"c7","x":10.645,"y":496},{"t":"c7","x":10.63,"y":494},{"t":"c7","x":10.615,"y":496.5},{"t":"c7","x":10.60,"y":494.5},{"t":"c7","x":10.585,"y":496},{"t":"c7","x":10.57,"y":493.5},{"t":"c7","x":10.555,"y":496},{"t":"c7","x":10.54,"y":494.5},{"t":"c7","x":10.525,"y":497},{"t":"c7","x":10.51,"y":494},{"t":"c7","x":10.495,"y":496},{"t":"c7","x":10.48,"y":494.5},{"t":"c7","x":10.465,"y":496.5},{"t":"c7","x":10.45,"y":494},{"t":"c7","x":10.435,"y":496},{"t":"c7","x":10.42,"y":494.5},{"t":"c7","x":10.405,"y":497},{"t":"c7","x":10.39,"y":494},{"t":"c7","x":10.375,"y":496},{"t":"c7","x":10.36,"y":494},{"t":"c7","x":10.345,"y":496.5},{"t":"c7","x":10.33,"y":494.5},{"t":"c7","x":10.315,"y":496},{"t":"c7","x":10.30,"y":494},{"t":"c7","x":10.285,"y":497},{"t":"c7","x":10.27,"y":494.5},{"t":"c7","x":10.255,"y":496},{"t":"c7","x":10.24,"y":494},{"t":"c7","x":10.225,"y":496.5},{"t":"c7","x":10.21,"y":494.5},{"t":"c7","x":10.195,"y":495.5}
],
"TL":[
{"x":10.282,"y":532,"s":"T=75C"},{"x":10.282,"y":451,"s":"T=65C"},{"x":10.282,"y":370,"s":"T=55C"},{"x":10.282,"y":289,"s":"T=45C"},{"x":10.282,"y":224,"s":"T=35C"},{"x":10.282,"y":140,"s":"T=25C"},{"x":10.282,"y":56,"s":"T=5C"}
]
},
"hconcat":[
{"width":228,"height":543,
 "encoding":{"x":{"field":"x","type":"quantitative","scale":{"domain":[10.19,11.51],"reverse":true,"nice":false,"zero":false},
   "axis":{"values":[11.5,11.4,11.3,11.2,11.1,11.0,10.9,10.8,10.7,10.6,10.5,10.4,10.3,10.2],"labelExpr":"datum.value==11 ? '11.0' : (datum.value==10.5 ? '10.5' : '')","tickSize":{"condition":{"test":"datum.value==11 || datum.value==10.5","value":7},"value":4}}},
  "y":{"field":"y","type":"quantitative","scale":{"domain":[0,543],"nice":false,"zero":false},"axis":null}},
 "layer":[
  {"data":{"name":"A"},"mark":{"type":"line","stroke":"#111","strokeWidth":1.5,"strokeJoin":"round"},"encoding":{"detail":{"field":"t"}}},
  {"data":{"values":[{"x":10.274,"y":-16,"s":"ppm"}]},"mark":{"type":"text","font":"Liberation Mono","fontSize":12.5,"baseline":"middle","color":"#1a1a1a"},"encoding":{"text":{"field":"s"}}},
  {"data":{"values":[{"x":11.012,"y":-86,"s":"(a)"}]},"mark":{"type":"text","font":"Liberation Serif","fontWeight":"bold","fontSize":26,"baseline":"middle","color":"#111"},"encoding":{"text":{"field":"s"}}}
 ]},
{"width":228,"height":543,
 "encoding":{"x":{"field":"x","type":"quantitative","scale":{"domain":[10.19,11.51],"reverse":true,"nice":false,"zero":false},
   "axis":{"values":[11.5,11.4,11.3,11.2,11.1,11.0,10.9,10.8,10.7,10.6,10.5,10.4,10.3,10.2],"labelExpr":"datum.value==11 ? '11.0' : (datum.value==10.5 ? '10.5' : '')","tickSize":{"condition":{"test":"datum.value==11 || datum.value==10.5","value":7},"value":4}}},
  "y":{"field":"y","type":"quantitative","scale":{"domain":[0,543],"nice":false,"zero":false},"axis":null}},
 "layer":[
  {"data":{"name":"B"},"mark":{"type":"line","stroke":"#111","strokeWidth":1.5,"strokeJoin":"round"},"encoding":{"detail":{"field":"t"}}},
  {"data":{"values":[{"x":10.274,"y":-16,"s":"ppm"}]},"mark":{"type":"text","font":"Liberation Mono","fontSize":12.5,"baseline":"middle","color":"#1a1a1a"},"encoding":{"text":{"field":"s"}}},
  {"data":{"values":[{"x":10.861,"y":-86,"s":"(b)"}]},"mark":{"type":"text","font":"Liberation Serif","fontWeight":"bold","fontSize":26,"baseline":"middle","color":"#111"},"encoding":{"text":{"field":"s"}}}
 ]},
{"width":228,"height":543,
 "encoding":{"x":{"field":"x","type":"quantitative","scale":{"domain":[10.19,11.51],"reverse":true,"nice":false,"zero":false},
   "axis":{"values":[11.5,11.4,11.3,11.2,11.1,11.0,10.9,10.8,10.7,10.6,10.5,10.4,10.3,10.2],"labelExpr":"datum.value==11 ? '11.0' : (datum.value==10.5 ? '10.5' : '')","tickSize":{"condition":{"test":"datum.value==11 || datum.value==10.5","value":7},"value":4}}},
  "y":{"field":"y","type":"quantitative","scale":{"domain":[0,543],"nice":false,"zero":false},"axis":null}},
 "layer":[
  {"data":{"name":"C"},"mark":{"type":"line","stroke":"#111","strokeWidth":1.5,"strokeJoin":"round"},"encoding":{"detail":{"field":"t"}}},
  {"data":{"name":"TL"},"mark":{"type":"text","font":"Liberation Serif","fontWeight":"bold","fontSize":12.5,"align":"left","baseline":"middle","color":"#111"},"encoding":{"text":{"field":"s"}}},
  {"data":{"values":[{"x":10.274,"y":-16,"s":"ppm"}]},"mark":{"type":"text","font":"Liberation Mono","fontSize":12.5,"baseline":"middle","color":"#1a1a1a"},"encoding":{"text":{"field":"s"}}},
  {"data":{"values":[{"x":10.960,"y":-86,"s":"(c)"}]},"mark":{"type":"text","font":"Liberation Serif","fontWeight":"bold","fontSize":26,"baseline":"middle","color":"#111"},"encoding":{"text":{"field":"s"}}}
 ]}
]
}
